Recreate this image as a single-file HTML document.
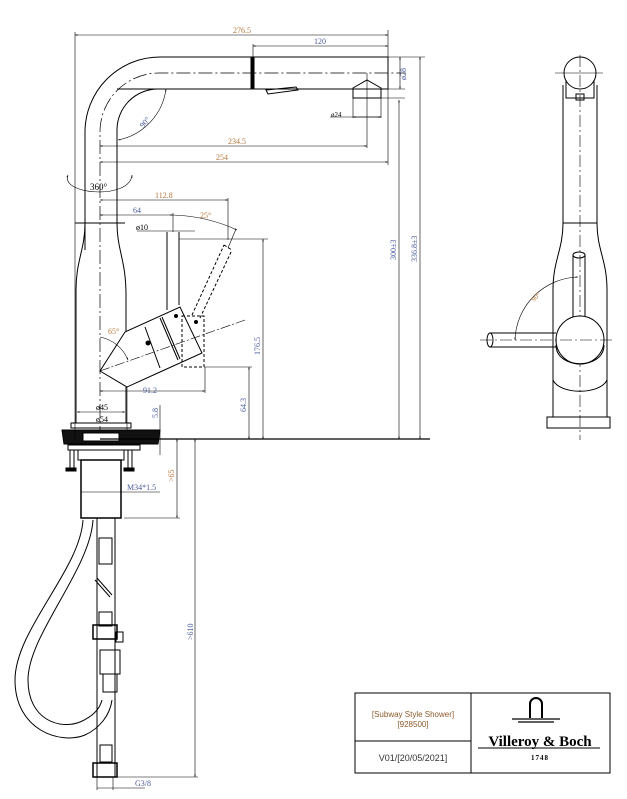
<!DOCTYPE html>
<html><head><meta charset="utf-8"><style>
html,body{margin:0;padding:0;background:#fff;}
svg{display:block;}
text{font-family:"Liberation Serif",serif;font-size:8px;}
.o{fill:#b8763a;} .b{fill:#4a5a9a;}
</style></head><body>
<svg width="627" height="799" viewBox="0 0 627 799" xmlns="http://www.w3.org/2000/svg">
<defs>
<marker id="a" viewBox="0 0 10 10" refX="10" refY="5" markerWidth="6" markerHeight="4" orient="auto-start-reverse"><path d="M0,2L10,5L0,8z" fill="#000"/></marker>
</defs>
<g fill="none" stroke="#000" stroke-width="1">
<!-- spout -->
<path d="M85,250 L85,132 A75,75 0 0 1 160,57 L388,57 L388,89 L117,89" />
<path d="M117,223 L117,130 A41,41 0 0 1 158,89" />
<path d="M100,440 L100,132 A59,59 0 0 1 159,73 L405,73" stroke-dasharray="14,3,2,3" stroke-width="0.7"/>
<rect x="251" y="57" width="3" height="32" fill="#000"/>
<path d="M266,90 L296,87 L298,90 L268,94 Z" />
<path d="M353,88 L353,98 L381,98 L381,88 L367,80 Z" />
<!-- body -->
<line x1="75" y1="223" x2="125" y2="223"/>
<path d="M85,223 C85,250 76,260 76,290 L76,423" />
<path d="M117,223 C117,250 126,260 126,295 L126,333" />
<path d="M126,387 L126,423" />
<!-- handle -->
<path d="M100,371 L125,332 L180,307 L202,353 L160,372 L127,387 Z" fill="#fff"/>
<line x1="160" y1="318" x2="178" y2="360"/><line x1="162" y1="317" x2="180" y2="359"/>
<line x1="145" y1="327" x2="160" y2="368"/>
<rect x="182" y="316" width="22" height="51" stroke-dasharray="3,2"/>
<path d="M192,315 L224,245 M200,318 L232,250 M224,245 L232,250" stroke-dasharray="3,2"/>
<line x1="167" y1="232" x2="167" y2="310"/><line x1="179" y1="232" x2="179" y2="305"/>
<circle cx="148" cy="343" r="2" fill="#000"/><circle cx="176" cy="316" r="1.5" fill="#000"/><circle cx="196" cy="322" r="1.5" fill="#000"/>
<path d="M100,371 L245,320" stroke-dasharray="10,2,2,2" stroke-width="0.6"/>
<!-- base -->
<rect x="71" y="423" width="60" height="5"/>
<path d="M62,430 L160,430 L158,444 L64,444 Z" fill="#111"/>
<rect x="83" y="433" width="36" height="8" fill="#fff"/>
<rect x="68" y="445" width="72" height="5"/>
<rect x="78" y="450" width="46" height="10"/>
<rect x="81" y="460" width="40" height="58" stroke-width="1.5"/>
<rect x="70" y="450" width="4" height="18"/><rect x="66" y="468" width="10" height="3" fill="#000"/>
<rect x="128" y="450" width="4" height="18"/><rect x="124" y="468" width="10" height="3" fill="#000"/>
<!-- hose -->
<line x1="97" y1="518" x2="97" y2="777"/><line x1="115" y1="518" x2="115" y2="777"/>
<path d="M83,520 C80,570 15,630 15,680 C15,730 60,745 85,735 C100,728 110,715 112,700"/>
<path d="M93,520 C90,570 28,635 28,680 C28,720 60,730 80,722 C94,716 100,708 102,700"/>
<rect x="99" y="538" width="13" height="26"/><rect x="99" y="612" width="13" height="14"/>
<rect x="93" y="625" width="24" height="14" stroke-width="1.5"/><rect x="116" y="632" width="7" height="10"/>
<rect x="100" y="650" width="20" height="24"/><rect x="103" y="674" width="14" height="18"/>
<rect x="100" y="745" width="12" height="17"/>
<rect x="93" y="763" width="24" height="14" stroke-width="1.5"/>
<line x1="95" y1="580" x2="110" y2="597"/><line x1="97" y1="578" x2="112" y2="595"/>
<!-- dimension lines -->
<g stroke-width="0.6">
<line x1="75" y1="32" x2="75" y2="440"/>
<line x1="75" y1="35" x2="388" y2="35" marker-start="url(#a)" marker-end="url(#a)"/>
<line x1="388" y1="30" x2="388" y2="165"/>
<line x1="253" y1="46" x2="388" y2="46" marker-start="url(#a)" marker-end="url(#a)"/>
<line x1="253" y1="44" x2="253" y2="57"/>
<line x1="100" y1="146" x2="367" y2="146" marker-start="url(#a)" marker-end="url(#a)"/>
<line x1="367" y1="73" x2="367" y2="148"/>
<line x1="100" y1="162" x2="388" y2="162" marker-start="url(#a)" marker-end="url(#a)"/>
<line x1="388" y1="57" x2="425" y2="57"/><line x1="388" y1="89" x2="405" y2="89"/><line x1="381" y1="98" x2="405" y2="98"/>
<line x1="400" y1="57" x2="400" y2="89" marker-start="url(#a)" marker-end="url(#a)"/>
<line x1="399" y1="100" x2="399" y2="439" marker-start="url(#a)" marker-end="url(#a)"/>
<line x1="420" y1="57" x2="420" y2="439" marker-start="url(#a)" marker-end="url(#a)"/>
<line x1="353" y1="98" x2="353" y2="118"/><line x1="381" y1="98" x2="381" y2="118"/>
<line x1="330" y1="117" x2="381" y2="117"/>
<line x1="353" y1="117" x2="367" y2="117" marker-start="url(#a)"/><line x1="367" y1="117" x2="381" y2="117" marker-end="url(#a)"/>
<path d="M166,89 A60,60 0 0 1 118,140" marker-start="url(#a)" marker-end="url(#a)"/>
<path d="M68,175 C60,195 130,200 132,175" marker-start="url(#a)" marker-end="url(#a)"/>
<line x1="100" y1="200" x2="228" y2="200" marker-start="url(#a)" marker-end="url(#a)"/>
<line x1="228" y1="198" x2="228" y2="240"/>
<line x1="100" y1="215" x2="173" y2="215" marker-start="url(#a)" marker-end="url(#a)"/>
<line x1="173" y1="213" x2="173" y2="232"/>
<path d="M173,215 C200,216 220,222 237,230" marker-end="url(#a)"/>
<line x1="236" y1="229" x2="228" y2="248"/>
<line x1="137" y1="231" x2="195" y2="231"/>
<line x1="179" y1="239" x2="268" y2="239"/>
<line x1="263" y1="239" x2="263" y2="439" marker-start="url(#a)" marker-end="url(#a)"/>
<line x1="204" y1="367" x2="252" y2="367"/>
<line x1="249" y1="367" x2="249" y2="439" marker-start="url(#a)" marker-end="url(#a)"/>
<line x1="100" y1="391" x2="205" y2="391" marker-start="url(#a)" marker-end="url(#a)"/>
<line x1="205" y1="367" x2="205" y2="393"/>
<line x1="127" y1="387" x2="127" y2="430"/>
<line x1="77" y1="412" x2="125" y2="412" marker-start="url(#a)" marker-end="url(#a)"/>
<line x1="71" y1="423" x2="131" y2="423" marker-start="url(#a)" marker-end="url(#a)"/>
<line x1="160" y1="405" x2="160" y2="455"/>
<path d="M100,337 A38,38 0 0 1 128,360" marker-end="url(#a)"/>
<line x1="100" y1="439" x2="430" y2="439" stroke-width="1.2"/>
<line x1="177" y1="439" x2="177" y2="518" marker-start="url(#a)" marker-end="url(#a)"/>
<line x1="124" y1="518" x2="180" y2="518"/>
<line x1="81" y1="492" x2="160" y2="492"/>
<line x1="195" y1="439" x2="195" y2="777" marker-start="url(#a)" marker-end="url(#a)"/>
<line x1="117" y1="777" x2="198" y2="777"/>
<line x1="97" y1="777" x2="97" y2="790"/><line x1="113" y1="777" x2="113" y2="790"/>
<line x1="97" y1="788" x2="145" y2="788"/>
</g>
<!-- right view -->
<circle cx="580" cy="73" r="16"/>
<line x1="555" y1="73" x2="603" y2="73" stroke-width="0.6"/>
<line x1="580" y1="55" x2="580" y2="440" stroke-dasharray="12,3,2,3" stroke-width="0.6"/>
<path d="M566,80 L566,98 L594,98 L594,80"/><rect x="576" y="94" width="8" height="6"/>
<line x1="563" y1="85" x2="563" y2="223"/><line x1="597" y1="85" x2="597" y2="223"/>
<line x1="563" y1="223" x2="597" y2="223"/>
<path d="M563,223 C563,250 553,260 553,290 L553,417"/>
<path d="M597,223 C597,250 607,260 607,290 L607,417"/>
<rect x="547" y="417" width="63" height="11"/>
<line x1="573" y1="255" x2="573" y2="320"/><line x1="585" y1="255" x2="585" y2="320"/>
<ellipse cx="579" cy="255" rx="6" ry="3"/>
<circle cx="580" cy="340" r="24" fill="#fff"/>
<path d="M556,345 C556,370 604,370 604,345" />
<path d="M553,380 C560,395 600,395 607,380"/>
<line x1="490" y1="333" x2="556" y2="333"/><line x1="490" y1="347" x2="556" y2="347"/>
<ellipse cx="490" cy="340" rx="3" ry="7"/>
<line x1="480" y1="340" x2="612" y2="340" stroke-dasharray="12,3,2,3" stroke-width="0.6"/>
<path d="M515,340 A65,65 0 0 1 578,277" stroke-width="0.6" marker-start="url(#a)" marker-end="url(#a)"/>
<!-- title block -->
<rect x="355" y="693" width="255" height="80"/>
<line x1="471" y1="693" x2="471" y2="773"/>
<line x1="355" y1="741" x2="471" y2="741"/>
<path d="M530,718 L530,704 A6,6 0 0 1 542,704 L542,718" stroke-width="2"/>
<line x1="512" y1="719" x2="560" y2="719" stroke-width="1.2"/>
<line x1="518" y1="722" x2="554" y2="722" stroke-width="1.2"/>
<line x1="478" y1="748" x2="600" y2="748" stroke-width="1"/>
</g>
<g>
<text x="233" y="33" class="o">276.5</text>
<text x="314" y="44" class="b">120</text>
<text x="228" y="144" class="o">234.5</text>
<text x="216" y="160" class="o">254</text>
<text x="331" y="117" style="font-size:7px">ø24</text>
<text x="138" y="127" class="b" transform="rotate(-50 142 122)">90°</text>
<text x="90" y="190" style="font-size:9px">360°</text>
<text x="155" y="198" class="o">112.8</text>
<text x="133" y="213" class="b">64</text>
<text x="200" y="218" class="o">25°</text>
<text x="136" y="230">ø10</text>
<text x="108" y="334" class="o">65°</text>
<text x="143" y="393" class="b">91.2</text>
<text x="96" y="410">ø45</text>
<text x="96" y="422">ø54</text>
<text x="127" y="490" class="b">M34*1.5</text>
<text x="135" y="786" class="b">G3/8</text>
<g class="b">
<text transform="translate(406,80) rotate(-90)">ø28</text>
<text transform="translate(246,412) rotate(-90)">64.3</text>
<text transform="translate(260,355) rotate(-90)">176.5</text>
<text transform="translate(158,418) rotate(-90)">5.8</text>
<text transform="translate(417,262) rotate(-90)">336.8±3</text>
<text transform="translate(193,640) rotate(-90)">&gt;610</text>
</g>
<text transform="translate(396,260) rotate(-90)" class="b">300±3</text>
<text transform="translate(174,482) rotate(-90)" class="o">&gt;65</text>
<text transform="translate(534,302) rotate(-45)" class="o" style="font-size:7px">90°</text>
<text x="413" y="717" text-anchor="middle" style="font-family:'Liberation Sans',sans-serif;font-size:8px;fill:#8a5a2a">[Subway Style Shower]</text>
<text x="413" y="727" text-anchor="middle" style="font-family:'Liberation Sans',sans-serif;font-size:8px;fill:#8a5a2a">[928500]</text>
<text x="413" y="761" text-anchor="middle" style="font-family:'Liberation Sans',sans-serif;font-size:9px;fill:#333">V01/[20/05/2021]</text>
<text x="540" y="746" text-anchor="middle" style="font-size:15px;font-weight:bold">Villeroy &amp; Boch</text>
<text x="540" y="760" text-anchor="middle" style="font-size:7px;font-weight:bold;letter-spacing:1px">1748</text>
</g>
</svg>
</body></html>
